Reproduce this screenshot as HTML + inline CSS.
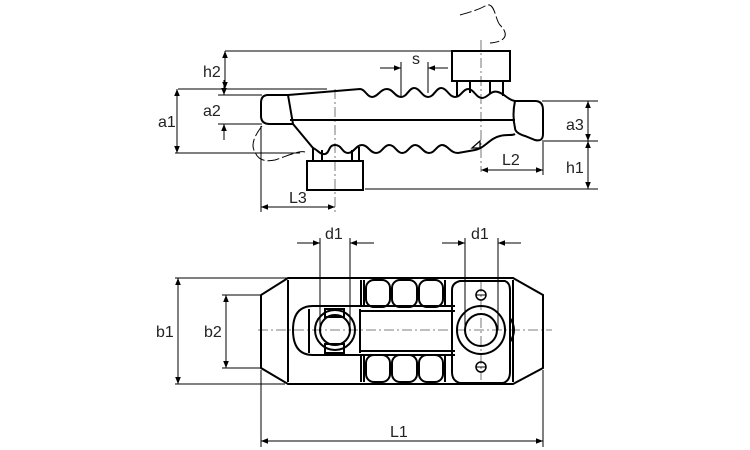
<!DOCTYPE html>
<html><head><meta charset="utf-8"><style>
html,body{margin:0;padding:0;background:#fff;}
svg{display:block}
text{font-family:"Liberation Sans",sans-serif;font-size:16px;fill:#222;}
</style></head><body>
<svg width="750" height="450" viewBox="0 0 750 450" xmlns="http://www.w3.org/2000/svg">
<defs>
<marker id="a" viewBox="0 0 10 10" refX="10" refY="5" markerWidth="9" markerHeight="7" orient="auto-start-reverse" markerUnits="userSpaceOnUse"><path d="M0,1 L10,5 L0,9 Z" fill="#000"/></marker>
</defs>
<g stroke="#000" fill="none" stroke-width="1">
<line x1="225" y1="51" x2="452" y2="51"/>
<line x1="178" y1="89" x2="327" y2="89"/>
<line x1="175" y1="153" x2="300" y2="153"/>
<line x1="218" y1="95" x2="262" y2="95"/>
<line x1="218" y1="124" x2="262" y2="124"/>
<line x1="225" y1="51" x2="225" y2="89" marker-start="url(#a)" marker-end="url(#a)"/>
<line x1="177" y1="89" x2="177" y2="153" marker-start="url(#a)" marker-end="url(#a)"/>
<line x1="224" y1="80" x2="224" y2="95" marker-end="url(#a)"/>
<line x1="224" y1="140" x2="224" y2="124" marker-end="url(#a)"/>
<line x1="380" y1="68" x2="401" y2="68" marker-end="url(#a)"/>
<line x1="448" y1="68" x2="428" y2="68" marker-end="url(#a)"/>
<line x1="401" y1="62" x2="401" y2="97"/>
<line x1="428" y1="62" x2="428" y2="93"/>
<line x1="261" y1="126" x2="261" y2="212"/>
<line x1="261" y1="207" x2="335" y2="207" marker-start="url(#a)" marker-end="url(#a)"/>
<line x1="481" y1="170" x2="543" y2="170" marker-start="url(#a)" marker-end="url(#a)"/>
<line x1="543" y1="142" x2="543" y2="175"/>
<line x1="542" y1="101" x2="598" y2="101"/>
<line x1="542" y1="141" x2="598" y2="141"/>
<line x1="365" y1="189" x2="598" y2="189"/>
<line x1="588" y1="101" x2="588" y2="141" marker-start="url(#a)" marker-end="url(#a)"/>
<line x1="588" y1="141" x2="588" y2="189" marker-start="url(#a)" marker-end="url(#a)"/>
<g stroke="#555" stroke-width="0.8" stroke-dasharray="10,3,2,3">
<line x1="335" y1="89" x2="335" y2="212"/>
<line x1="481" y1="40" x2="481" y2="172"/>
<line x1="258" y1="330" x2="552" y2="330"/>
<line x1="481" y1="282" x2="481" y2="380"/>
</g>
<path d="M460,15 C470,12 478,10 485,6 C495,0 495,20 500,25 C510,35 505,42 490,43" stroke-dasharray="12,3"/>
<path d="M262,126 C255,135 250,145 255,152 C258,160 265,162 275,160 C290,155 300,150 305,152" stroke-dasharray="12,3"/>
</g>
<g stroke="#000" fill="none" stroke-width="2">
<path d="M268,95 L288,95 L293,124 L270,124 Q261,124 261,116 L261,103 Q261,95 268,95 Z"/>
<path d="M288,95 L360,89 C365,89 367,97 372,97 C378,97 380,89 387,89 C393,89 395,97 401,97 C407,97 409,88 414,88 C420,88 422,97 428,97 C434,97 436,88 441,88 C447,88 449,97 455,97 C461,97 463,89 468,89 C474,89 476,98 482,98 C488,98 490,90 498,92 C505,94 508,100 515,101"/>
<line x1="290" y1="120" x2="515" y2="120"/>
<path d="M515,101 L535,101 Q543,101 543,110 L543,134 Q543,142 535,140 L525,136 Q515,133 515,128 Q512,115 515,101 Z"/>
<path d="M293,124 L313,148 C318,150 320,155 325,154 C330,153 328,145 335,145 C342,145 342,153 348,153 C354,153 356,145 362,145 C368,145 370,153 376,153 C382,153 384,145 389,145 C395,145 397,153 402,153 C408,153 410,145 415,145 C421,145 423,153 429,153 C435,153 437,145 442,145 C448,145 450,153 458,153 L475,150 C485,148 490,138 500,136 C507,134 512,136 515,134"/>
<rect x="452" y="51" width="58" height="30"/>
<path d="M457,81 L457,96 M470,81 L470,93 M490,81 L490,93 M503,81 L503,96"/>
<rect x="307" y="161" width="56" height="29"/>
<path d="M313,161 L313,147 M322,161 L322,150 M352,161 L352,150 M359,161 L359,147"/>
<path d="M472,148 L480,141 L480,148 Z" stroke-width="1.2"/>
</g>
<g stroke="#000" fill="none" stroke-width="1">
<line x1="175" y1="278" x2="287" y2="278"/>
<line x1="175" y1="384" x2="285" y2="384"/>
<line x1="222" y1="295" x2="262" y2="295"/>
<line x1="222" y1="368" x2="262" y2="368"/>
<line x1="178" y1="278" x2="178" y2="384" marker-start="url(#a)" marker-end="url(#a)"/>
<line x1="226" y1="295" x2="226" y2="368" marker-start="url(#a)" marker-end="url(#a)"/>
<line x1="261" y1="370" x2="261" y2="447"/>
<line x1="543" y1="370" x2="543" y2="447"/>
<line x1="261" y1="441" x2="543" y2="441" marker-start="url(#a)" marker-end="url(#a)"/>
<line x1="320" y1="238" x2="320" y2="330"/>
<line x1="350" y1="238" x2="350" y2="330"/>
<line x1="297" y1="243" x2="320" y2="243" marker-end="url(#a)"/>
<line x1="374" y1="243" x2="350" y2="243" marker-end="url(#a)"/>
<line x1="465" y1="238" x2="465" y2="330"/>
<line x1="498" y1="238" x2="498" y2="330"/>
<line x1="442" y1="243" x2="465" y2="243" marker-end="url(#a)"/>
<line x1="521" y1="243" x2="498" y2="243" marker-end="url(#a)"/>
</g>
<g stroke="#000" fill="none" stroke-width="2">
<path d="M288,278 L513,278 L543,295 L543,368 L513,384 L288,384 L261,368 L261,295 Z"/>
<line x1="288" y1="280" x2="288" y2="382"/>
<line x1="513" y1="280" x2="513" y2="382"/>
<line x1="361" y1="280" x2="361" y2="306"/>
<line x1="361" y1="355" x2="361" y2="382"/>
<line x1="364" y1="280" x2="364" y2="306"/>
<line x1="364" y1="355" x2="364" y2="382"/>
<rect x="366" y="280" width="24" height="27" rx="8"/>
<rect x="392" y="280" width="25" height="27" rx="8"/>
<rect x="419" y="280" width="24" height="27" rx="8"/>
<rect x="366" y="355" width="24" height="27" rx="8"/>
<rect x="392" y="355" width="25" height="27" rx="8"/>
<rect x="419" y="355" width="24" height="27" rx="8"/>
<line x1="445" y1="280" x2="445" y2="306"/>
<line x1="445" y1="355" x2="445" y2="382"/>
<path d="M455,306 L313,306 Q293,306 293,330 Q293,355 313,355 L455,355"/>
<line x1="361" y1="311" x2="455" y2="311"/>
<line x1="361" y1="351" x2="455" y2="351"/>
<line x1="309" y1="309" x2="309" y2="353"/>
<line x1="360" y1="309" x2="360" y2="353"/>
<rect x="325" y="309" width="19" height="8"/>
<rect x="325" y="344" width="19" height="9"/>
<circle cx="335" cy="330" r="20"/>
<circle cx="335" cy="330" r="15"/>
<path d="M460,281 L505,281 Q510,283 510,290 L510,372 Q510,381 503,383 L460,383 Q452,381 452,372 L452,290 Q452,283 460,281 Z"/>
<path d="M510,318 Q518,330 510,342"/>
<circle cx="481" cy="330" r="24"/>
<circle cx="481" cy="330" r="16"/>
<circle cx="481" cy="295" r="5" stroke-width="1.5"/>
<circle cx="481" cy="367" r="5" stroke-width="1.5"/>
</g>
<g stroke="#000" stroke-width="1">
<line x1="476" y1="295" x2="486" y2="295"/><line x1="476" y1="367" x2="486" y2="367"/>
</g>
<text x="203" y="77">h2</text>
<text x="158" y="127">a1</text>
<text x="203" y="116">a2</text>
<text x="412" y="64">s</text>
<text x="289" y="203">L3</text>
<text x="502" y="165">L2</text>
<text x="566" y="130">a3</text>
<text x="566" y="173">h1</text>
<text x="325" y="239">d1</text>
<text x="471" y="239">d1</text>
<text x="156" y="337">b1</text>
<text x="204" y="337">b2</text>
<text x="390" y="437">L1</text>
</svg>
</body></html>
